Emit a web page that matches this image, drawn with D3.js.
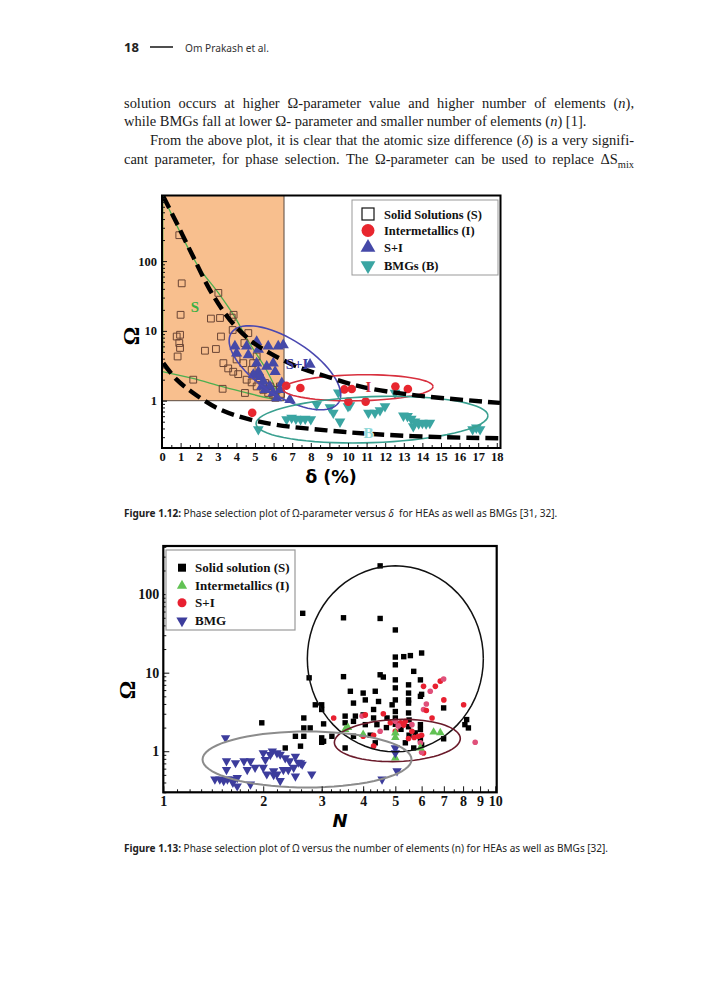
<!DOCTYPE html>
<html>
<head>
<meta charset="utf-8">
<script src="https://cdn.jsdelivr.net/npm/d3@7"></script>
<style>
  body { margin: 0; background: #fff; }
  svg { display: block; }
  .tick text { font-family: "Liberation Serif", serif; font-weight: bold; fill: #111; }
  .tick line { stroke: #111; }
  .domain { display: none; }
</style>
</head>
<body>
<script>
// ---------- Figure 1.12 : Omega vs delta ----------
var deltaTicks = d3.range(0, 19);
var omegaTicks1 = [1, 10, 100];

var solid1 = [[0.93,235],[1.06,48],[1.0,17],[0.79,8.3],[0.97,8.8],[0.93,6.7],[0.97,5.7],[0.84,4.3],
  [2.31,5.2],[2.9,5.5],[2.63,15],[3.12,15.3],[3.75,15.5],[3.17,8.3],[3.8,10.3],[4.43,6.7],[3.03,35],
  [1.68,2.0],[3.26,1.48],[4.46,1.29],[3.3,3.45],[3.56,2.9],[3.83,2.6],[4.1,2.4],[4.55,2.0],[4.82,1.83],
  [5.09,1.6],[5.45,1.43],[5.71,1.29],[5.98,1.22],[6.17,1.43],[6.34,1.6],[4.64,9.3],[4.01,3.9],
  [4.37,3.45],[4.82,2.77],[5.0,2.35],[5.27,2.1],[5.54,1.79],[5.8,1.6],[3.85,17],[4.9,3.45],[5.09,4.3],
  [6.1,1.1],[6.4,1.25]];
var inter1 = [[4.85,0.67],[6.68,1.64],[7.44,1.52],[9.8,1.45],[10.2,1.47],[10.02,0.97],[10.95,0.97],
  [12.55,1.6],[13.22,1.47]];
var mixed1 = [[3.92,6],[4.01,4.8],[4.55,6],[4.64,4.5],[5.09,7],[5.18,5.4],[5.09,3.45],[5.18,2.6],
  [4.91,2.35],[5.27,2.2],[5.45,1.9],[5.63,3.1],[5.71,6],[6.25,6],[6.52,6.3],[5.98,3.45],[6.08,2.6],
  [5.8,1.6],[5.98,1.29],[6.17,1.09],[6.34,1.43],[6.44,1.79],[7.96,3.3],[6.88,1.03],[5.36,1.6],[5.54,1.43]];
var bmg1 = [[5.18,0.39],[6.7,0.54],[6.97,0.57],[7.2,0.55],[7.45,0.54],[7.7,0.55],[8.0,0.54],[8.32,0.88],
  [9.03,0.8],[9.21,0.67],[9.57,0.5],[9.48,1.31],[10.0,0.83],[10.1,0.86],[11.1,0.67],[11.45,0.67],
  [11.72,0.73],[11.99,0.83],[12.53,1.29],[12.98,0.61],[13.2,0.6],[13.4,0.55],[13.51,0.43],[13.6,0.5],
  [13.8,0.47],[14.0,0.48],[14.2,0.47],[14.4,0.48],[16.7,0.39],[16.9,0.41],[17.1,0.39]];

var upperBound1 = [[0.07,840],[0.79,350],[1.68,115],[2.58,38.5],[3.66,14.3],[4.73,7.4],[5.8,4.8],
  [7.24,3.1],[8.85,2.22],[10.65,1.6],[13.33,1.22],[18.17,0.93]];
var lowerBound1 = [[0.07,3.45],[0.79,2.0],[1.68,1.29],[2.94,0.79],[4.37,0.57],[6.17,0.45],
  [8.85,0.376],[11.54,0.33],[15.1,0.30],[18.17,0.29]];
var greenUpper1 = [[0.05,860],[1.0,250],[2.0,80],[3.03,35],[3.9,16],[4.7,6.7],[5.6,2.8],[6.35,1.1]];
var greenLeft1 = [[0.04,860],[0.04,5]];
var greenLower1 = [[0.02,2.6],[1.6,2.1],[3.2,1.6],[4.5,1.3],[6.2,1.02]];

// ---------- Figure 1.13 : Omega vs N ----------
var nTicks = [1, 2, 3, 4, 5, 6, 7, 8, 9, 10];
var omegaTicks2 = [1, 10, 100];

var solid2 = [[4.5,229],[2.63,57],[3.49,50],[4.5,49],[5.0,35],[5.0,15.8],[5.3,16],[5.55,16.5],[6.0,17.8],
  [5.0,12.6],[5.68,10.4],[3.49,8.9],[4.5,9.4],[4.6,8.8],[2.75,8.6],[5.0,8.1],[5.95,8.1],[3.66,5.8],
  [4.0,5.5],[4.35,5.8],[5.0,6.4],[5.48,7.0],[5.48,5.5],[5.95,5.0],[4.06,4.5],[4.45,4.3],[5.0,4.5],
  [5.48,4.5],[6.0,5.3],[3.74,4.1],[2.87,3.9],[3.0,3.9],[3.0,3.4],[4.89,3.9],[5.48,4.1],[6.99,3.56],
  [4.3,3.4],[5.0,3.2],[5.48,3.07],[2.65,2.65],[3.53,2.8],[3.79,2.8],[4.0,2.9],[4.3,2.65],[4.72,2.65],
  [5.0,2.65],[3.53,2.3],[3.74,2.4],[4.06,2.18],[4.4,2.18],[3.04,2.23],[1.98,2.3],[2.65,1.98],[2.77,1.98],
  [2.5,1.55],[2.65,1.55],[3.22,1.55],[3.74,1.55],[3.0,1.48],[3.04,1.34],[2.59,1.16],[2.33,1.1],[3.53,1.1],
  [4.35,1.28],[5.36,1.28],[5.68,1.1],[5.95,1.89],[5.95,1.41],[6.99,1.44],[8.2,2.53],[8.3,1.98],[8.1,2.18],
  [5.95,2.18],[5.48,2.05],[5.74,1.71],[3.0,1.3],[4.7,2.0],[5.2,1.9],[5.5,1.6],[6.0,1.2],[5.5,2.5],
  [5.0,2.2],[4.2,1.6]];
var inter2 = [[3.53,1.89],[4.0,1.63],[5.0,1.71],[5.0,0.82],[5.95,1.1],[6.52,1.75],[6.83,1.72],[5.0,1.5],[3.6,2.0]];
var mixed2 = [[3.26,2.65],[3.97,2.8],[4.06,2.9],[4.83,2.3],[5.0,2.4],[5.18,2.3],[5.36,2.4],[5.61,2.18],
  [5.61,1.8],[5.87,1.55],[5.95,1.28],[6.08,0.95],[4.0,1.55],[4.5,1.8],[4.3,1.16],[6.08,6.7],[6.37,5.8],
  [6.6,6.7],[6.83,7.8],[6.99,8.3],[7.0,4.5],[6.45,2.65],[6.08,3.4],[6.2,3.3],[8.03,3.9],[8.7,1.3],
  [5.48,1.45],[5.0,1.8],[5.1,2.1],[5.3,2.15],[6.0,1.6],[6.2,4.0],[5.7,1.5],[4.3,1.6],[6.0,0.97],[4.6,3.0]];
var bmg2 = [[1.54,1.48],[1.55,0.75],[1.55,0.58],[1.48,0.44],[1.56,0.44],[1.61,0.44],[1.67,0.46],[1.67,0.36],
  [1.65,0.71],[1.75,0.75],[1.83,0.75],[1.79,0.58],[1.89,0.62],[1.83,0.38],[2.0,0.62],[2.0,0.95],[2.03,0.78],
  [2.13,1.0],[2.2,0.95],[2.25,0.91],[2.33,0.82],[2.05,0.51],[2.15,0.56],[2.2,0.51],[2.25,0.42],[2.3,0.58],
  [2.38,0.58],[2.47,0.62],[2.5,0.86],[2.5,0.48],[2.59,0.71],[2.8,0.51],[4.56,0.44],[5.06,0.56],[5.0,0.95],
  [5.0,1.1],[1.43,0.44],[1.52,0.42],[2.15,0.5],[2.1,0.9],[2.4,0.75],[2.55,0.72],[2.62,0.68],[1.62,0.4]];

var svg = d3.select("body").append("svg").attr("width", 708).attr("height", 1000);

// ---------- page text ----------
function addLine(x, y, segs, cls) {
  var t = svg.append("text").attr("x", x).attr("y", y).attr("class", cls);
  segs.forEach(function(s) {
    var ts = t.append("tspan").text(s[0]);
    if (s[1] == "i") ts.attr("font-style", "italic");
    if (s[1] == "b") ts.attr("font-weight", "bold");
    if (s[1] == "sub") ts.attr("font-size", "0.72em").attr("dy", 4);
  });
  return t;
}
function justify(t, width) {
  var len = t.node().getComputedTextLength();
  var n = (t.text().match(/ /g) || []).length;
  t.style("word-spacing", ((width - len) / n) + "px");
}
function fitWidth(t, size, width) {
  t.style("font-size", size + "px");
  t.style("font-size", (size * width / t.node().getComputedTextLength()) + "px");
}

svg.append("text").attr("x", 124).attr("y", 52).text("18")
  .style("font-family", "Noto Sans").style("font-weight", "bold").style("font-size", "13px").style("fill", "#222");
svg.append("line").attr("x1", 150).attr("x2", 173).attr("y1", 47).attr("y2", 47)
  .style("stroke", "#222").style("stroke-width", 1.6);
var running = svg.append("text").attr("x", 185).attr("y", 51.5).text("Om Prakash et al.")
  .style("font-family", "Noto Sans").style("fill", "#333");
fitWidth(running, 12, 84);

var para = [
  {x: 124, y: 107.5, full: true, segs: [["solution occurs at higher Ω-parameter value and higher number of elements ("], ["n", "i"], ["),"]]},
  {x: 124, y: 126, full: false, segs: [["while BMGs fall at lower Ω- parameter and smaller number of elements ("], ["n", "i"], [") [1]."]]},
  {x: 150, y: 145, full: true, segs: [["From the above plot, it is clear that the atomic size difference ("], ["δ", "i"], [") is a very signifi-"]]},
  {x: 124, y: 164, full: true, segs: [["cant parameter, for phase selection. The Ω-parameter can be used to replace ΔS"], ["mix", "sub"]]}
];
var paraLines = para.map(function(p) {
  return addLine(p.x, p.y, p.segs, "para")
    .style("font-family", "Liberation Serif").style("font-size", "14px").style("fill", "#1a1a1a");
});
// size the font from the natural (unjustified) second line
var natural = paraLines[1].node().getComputedTextLength();
var fs = 14 * 463 / natural;
paraLines.forEach(function(t, i) {
  t.style("font-size", fs + "px");
  if (para[i].full) justify(t, 634 - para[i].x);
});

var cap1 = addLine(124, 517, [["Figure 1.12:", "b"], [" Phase selection plot of Ω-parameter versus "], ["δ", "i"], ["  for HEAs as well as BMGs [31, 32]."]]);
var cap2 = addLine(124, 852, [["Figure 1.13:", "b"], [" Phase selection plot of Ω versus the number of elements (n) for HEAs as well as BMGs [32]."]]);
[cap1, cap2].forEach(function(t) {
  t.style("font-family", "Noto Sans").style("font-size", "11px").style("fill", "#222").style("white-space", "pre");
});
var capScale = 11 * 434 / cap1.node().getComputedTextLength();
cap1.style("font-size", capScale + "px");
cap2.style("font-size", capScale + "px");

// ---------- helpers ----------
function ellipsePath(cx, cy, rx, ry, rot) {
  var a = rot * Math.PI / 180, pts = [];
  for (var k = 0; k <= 72; k++) {
    var t = k / 72 * 2 * Math.PI;
    var ex = rx * Math.cos(t), ey = ry * Math.sin(t);
    pts.push([cx + ex * Math.cos(a) - ey * Math.sin(a), cy + ex * Math.sin(a) + ey * Math.cos(a)]);
  }
  return d3.line()(pts);
}
function logMinor(lo, hi) {
  var out = [];
  for (var e = Math.floor(Math.log10(lo)); e <= Math.ceil(Math.log10(hi)); e++) {
    for (var m = 2; m <= 9; m++) {
      var v = m * Math.pow(10, e);
      if (v > lo && v < hi) out.push(v);
    }
  }
  return out;
}
var sym = function(type, size) { return d3.symbol().type(type).size(size)(); };

// =========== FIGURE 1 ===========
var x1 = d3.scaleLinear().domain([0, 18.2]).range([162, 500.5]);
var y1 = d3.scaleLog().domain([0.21, 870]).range([448, 195.5]);
var f1 = svg.append("g");

f1.append("rect").attr("x", x1(0)).attr("y", y1(870)).attr("width", x1(6.56) - x1(0))
  .attr("height", y1(1) - y1(870)).style("fill", "#f8bf8e").style("stroke", "#5a4a40").style("stroke-width", 1);

var gl = d3.line().x(function(d) { return x1(d[0]); }).y(function(d) { return y1(d[1]); });
[greenUpper1, greenLeft1, greenLower1].forEach(function(g) {
  f1.append("path").attr("d", gl.curve(d3.curveCatmullRom)(g))
    .style("fill", "none").style("stroke", "#4caf50").style("stroke-width", 1.3);
});

// points
f1.selectAll(".sq").data(solid1).enter().append("path")
  .attr("transform", function(d) { return "translate(" + x1(d[0]) + "," + y1(d[1]) + ")"; })
  .attr("d", sym(d3.symbolSquare, 46))
  .style("fill", "none").style("stroke", "#6a4535").style("stroke-width", 1);

f1.selectAll(".bm").data(bmg1).enter().append("path")
  .attr("transform", function(d) { return "translate(" + x1(d[0]) + "," + y1(d[1]) + ") rotate(180)"; })
  .attr("d", sym(d3.symbolTriangle, 50)).style("fill", "#3aa5a2");

f1.selectAll(".mx").data(mixed1).enter().append("path")
  .attr("transform", function(d) { return "translate(" + x1(d[0]) + "," + y1(d[1]) + ")"; })
  .attr("d", sym(d3.symbolTriangle, 55)).style("fill", "#4549a8");

f1.selectAll(".ci").data(inter1).enter().append("circle")
  .attr("cx", function(d) { return x1(d[0]); }).attr("cy", function(d) { return y1(d[1]); })
  .attr("r", 4.3).style("fill", "#e8262e");

// ellipses (centres in data units, radii in px)
var ell1 = [
  {c: [6.61, 2.96], rx: 64, ry: 28, rot: 33, color: "#4a48b0"},
  {c: [10.54, 1.53], rx: 75, ry: 13, rot: -1, color: "#d8303e"},
  {c: [11.29, 0.535], rx: 116, ry: 23, rot: -2, color: "#3aa090"}
];
ell1.forEach(function(e) {
  f1.append("path").attr("d", ellipsePath(x1(e.c[0]), y1(e.c[1]), e.rx, e.ry, e.rot))
    .style("fill", "none").style("stroke", e.color).style("stroke-width", 1.6);
});

// dashed boundaries
[upperBound1, lowerBound1].forEach(function(b) {
  f1.append("path").attr("d", gl.curve(d3.curveCatmullRom)(b))
    .style("fill", "none").style("stroke", "#000").style("stroke-width", 4.4)
    .style("stroke-dasharray", "13,6");
});

// region labels
var lab1 = [
  {t: "S", v: [1.77, 22], c: "#3cb043"},
  {t: "S+I", v: [6.65, 3.3], c: "#3c3ca0"},
  {t: "I", v: [11.1, 1.55], c: "#d8303e"},
  {t: "B", v: [11.1, 0.35], c: "#8fd8d8"}
];
lab1.forEach(function(l) {
  f1.append("text").attr("x", x1(l.v[0])).attr("y", y1(l.v[1]) + 5).text(l.t)
    .attr("text-anchor", l.t == "S+I" ? "start" : "middle")
    .style("font-family", "Liberation Serif").style("font-weight", "bold").style("font-size", "15px")
    .style("fill", l.c).style("paint-order", "stroke").style("stroke", "#fff").style("stroke-width", l.t == "B" ? 1.5 : 0);
});

// axes
f1.append("g").attr("transform", "translate(0," + 448 + ")")
  .call(d3.axisBottom(x1).tickValues(deltaTicks).tickSize(-5).tickPadding(4).tickFormat(d3.format("d")))
  .selectAll("text").style("font-size", "12.5px");
f1.append("g").attr("transform", "translate(0," + 448 + ")")
  .call(d3.axisBottom(x1).tickValues(d3.range(0.5, 18.2, 1)).tickSize(-3).tickFormat(""));
f1.append("g").attr("transform", "translate(162,0)")
  .call(d3.axisLeft(y1).tickValues(omegaTicks1).tickSize(-5).tickPadding(5).tickFormat(d3.format("d")))
  .selectAll("text").style("font-size", "12.5px");
f1.append("g").attr("transform", "translate(162,0)")
  .call(d3.axisLeft(y1).tickValues(logMinor(0.21, 870)).tickSize(-3).tickFormat(""));

f1.append("rect").attr("x", 162).attr("y", 195.5).attr("width", 338.5).attr("height", 252.5)
  .style("fill", "none").style("stroke", "#000").style("stroke-width", 2);

f1.append("text").attr("x", 331).attr("y", 483).attr("text-anchor", "middle").text("δ (%)")
  .style("font-family", "DejaVu Sans").style("font-weight", "bold").style("font-size", "17.5px");
f1.append("text").attr("transform", "translate(139,336) rotate(-90)").attr("text-anchor", "middle").text("Ω")
  .style("font-family", "Liberation Serif").style("font-weight", "bold").style("font-size", "23px");

// legend
var leg1 = f1.append("g");
leg1.append("rect").attr("x", 352).attr("y", 200).attr("width", 146).attr("height", 75)
  .style("fill", "#fff").style("stroke", "#999").style("stroke-width", 1);
var legItems1 = ["Solid Solutions (S)", "Intermetallics (I)", "S+I", "BMGs (B)"];
var legY1 = [214, 230.5, 247.5, 265.5];
legItems1.forEach(function(name, i) {
  var g = leg1.append("g").attr("transform", "translate(368," + legY1[i] + ")");
  if (i == 0) g.append("rect").attr("x", -6).attr("y", -6).attr("width", 12).attr("height", 12)
    .style("fill", "none").style("stroke", "#111").style("stroke-width", 1.2);
  if (i == 1) g.append("circle").attr("r", 6.5).style("fill", "#e8262e");
  if (i == 2) g.append("path").attr("d", sym(d3.symbolTriangle, 95)).style("fill", "#4549a8");
  if (i == 3) g.append("path").attr("d", sym(d3.symbolTriangle, 95)).attr("transform", "rotate(180)").style("fill", "#3aa5a2");
  leg1.append("text").attr("x", 384).attr("y", legY1[i] + 4.5).text(name)
    .style("font-family", "Liberation Serif").style("font-weight", "bold").style("font-size", "12.5px").style("fill", "#111");
});

// =========== FIGURE 2 ===========
var x2 = d3.scaleLog().domain([1, 10.1]).range([163.3, 496.7]);
var y2 = d3.scaleLog().domain([0.30, 410]).range([792.3, 546]);
var f2 = svg.append("g");

var ell2 = [
  {c: [5.0, 15], rx: 88, ry: 93, rot: 0, color: "#111", w: 1.5},
  {c: [5.07, 1.37], rx: 63, ry: 21, rot: -2, color: "#6a1a2a", w: 1.6},
  {c: [2.71, 0.785], rx: 104.5, ry: 28, rot: 0, color: "#8c8c8c", w: 2}
];

f2.selectAll(".sq").data(solid2).enter().append("rect")
  .attr("x", function(d) { return x2(d[0]) - 2.7; }).attr("y", function(d) { return y2(d[1]) - 2.7; })
  .attr("width", 5.4).attr("height", 5.4).style("fill", "#000");
f2.selectAll(".ci").data(mixed2).enter().append("circle")
  .attr("cx", function(d) { return x2(d[0]); }).attr("cy", function(d) { return y2(d[1]); })
  .attr("r", 2.8).style("fill", function(d, i) { return i % 3 == 1 ? "#e0507a" : "#e82030"; });
f2.selectAll(".tr").data(inter2).enter().append("path")
  .attr("transform", function(d) { return "translate(" + x2(d[0]) + "," + y2(d[1]) + ")"; })
  .attr("d", sym(d3.symbolTriangle, 32)).style("fill", "#62c254");
f2.selectAll(".bm").data(bmg2).enter().append("path")
  .attr("transform", function(d) { return "translate(" + x2(d[0]) + "," + y2(d[1]) + ") rotate(180)"; })
  .attr("d", sym(d3.symbolTriangle, 38)).style("fill", "#3c3c9c");

ell2.forEach(function(e) {
  f2.append("path").attr("d", ellipsePath(x2(e.c[0]), y2(e.c[1]), e.rx, e.ry, e.rot))
    .style("fill", "none").style("stroke", e.color).style("stroke-width", e.w);
});

var minorN = d3.range(1.1, 2, 0.1).concat(d3.range(2.2, 5, 0.2)).concat([5.5, 6.5, 7.5, 8.5, 9.5]);
f2.append("g").attr("transform", "translate(0,792.3)")
  .call(d3.axisBottom(x2).tickValues(nTicks).tickSize(-6).tickPadding(4).tickFormat(d3.format("d")))
  .selectAll("text").style("font-size", "14px");
f2.append("g").attr("transform", "translate(0,792.3)")
  .call(d3.axisBottom(x2).tickValues(minorN).tickSize(-3).tickFormat(""));
f2.append("g").attr("transform", "translate(163.3,0)")
  .call(d3.axisLeft(y2).tickValues(omegaTicks2).tickSize(-6).tickPadding(4).tickFormat(d3.format("d")))
  .selectAll("text").style("font-size", "14px");
f2.append("g").attr("transform", "translate(163.3,0)")
  .call(d3.axisLeft(y2).tickValues(logMinor(0.3, 410)).tickSize(-3).tickFormat(""));

f2.append("rect").attr("x", 163.3).attr("y", 546).attr("width", 333.4).attr("height", 246.3)
  .style("fill", "none").style("stroke", "#000").style("stroke-width", 2.2);

f2.append("text").attr("x", 340).attr("y", 827).attr("text-anchor", "middle").text("N")
  .style("font-family", "DejaVu Sans").style("font-weight", "bold").style("font-style", "italic").style("font-size", "18px");
f2.append("text").attr("transform", "translate(135,690) rotate(-90)").attr("text-anchor", "middle").text("Ω")
  .style("font-family", "Liberation Serif").style("font-weight", "bold").style("font-size", "23px");

var leg2 = f2.append("g");
leg2.append("rect").attr("x", 166).attr("y", 550).attr("width", 129).attr("height", 80)
  .style("fill", "#fff").style("stroke", "#999").style("stroke-width", 1.2);
var legItems2 = ["Solid solution (S)", "Intermetallics (I)", "S+I", "BMG"];
var legY2 = [567.7, 585.7, 602.7, 620.7];
legItems2.forEach(function(name, i) {
  var g = leg2.append("g").attr("transform", "translate(182," + legY2[i] + ")");
  if (i == 0) g.append("rect").attr("x", -4).attr("y", -4).attr("width", 8).attr("height", 8).style("fill", "#000");
  if (i == 1) g.append("path").attr("d", sym(d3.symbolTriangle, 45)).style("fill", "#62c254");
  if (i == 2) g.append("circle").attr("r", 4.5).style("fill", "#e82030");
  if (i == 3) g.append("path").attr("d", sym(d3.symbolTriangle, 55)).attr("transform", "rotate(180)").style("fill", "#3c3c9c");
  leg2.append("text").attr("x", 195).attr("y", legY2[i] + 4.5).text(name)
    .style("font-family", "Liberation Serif").style("font-weight", "bold").style("font-size", "13px").style("fill", "#111");
});
</script>
</body>
</html>
